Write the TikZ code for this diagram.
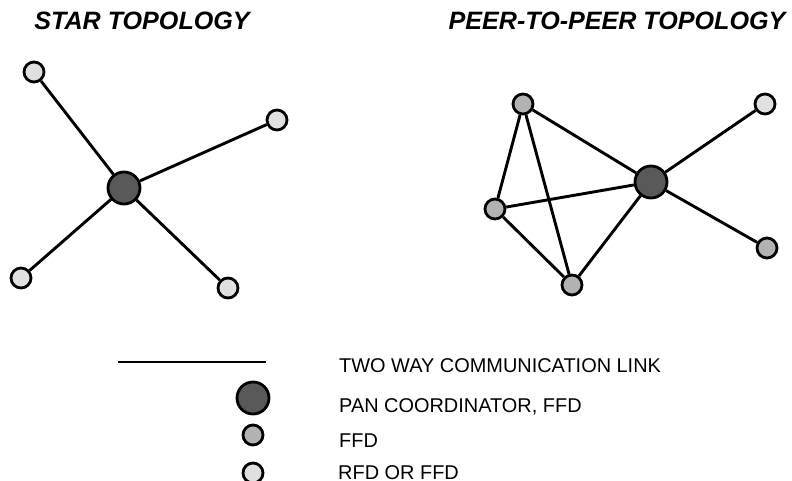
\documentclass[tikz,border=0pt]{standalone}
\usepackage{fontspec}
\setmainfont{Liberation Sans}
\usetikzlibrary{positioning}
\definecolor{coordfill}{HTML}{595959}
\definecolor{ffdfill}{HTML}{B2B2B2}
\definecolor{rfdfill}{HTML}{E0E0E0}

\begin{document}
\begin{tikzpicture}[
    x=1bp, y=-1bp,
    link/.style={line width=2.9bp, draw=black},
    dev/.style={circle, draw=black, inner sep=0pt, line width=2.8bp},
    pancoord/.style={dev, fill=coordfill, minimum size=32bp},
    ffd/.style={dev, fill=ffdfill, minimum size=20bp},
    rfd/.style={dev, fill=rfdfill, minimum size=20bp},
    ttl/.style={font=\fontsize{25.2}{29}\selectfont\bfseries\itshape, anchor=base, inner sep=0pt},
    lgtext/.style={font=\fontsize{20}{24}\selectfont, anchor=base west, inner sep=0pt, text depth=0pt},
]
\useasboundingbox (0,0) rectangle (792,481);

% --- Titles ---
\node[ttl] (startitle) at (142, 30) {STAR TOPOLOGY};
\node[ttl] (p2ptitle) at (617, 30) {PEER-TO-PEER TOPOLOGY};

% --- Star topology ---
\node[pancoord] (sc) at (124, 188) {};
\node[rfd] (s1) at (34, 72) {};
\node[rfd] (s2) at (277, 120) {};
\node[rfd] (s3) at (21, 278) {};
\node[rfd] (s4) at (228, 288) {};
\foreach \n in {s1,s2,s3,s4} {
    \draw[link] (sc) -- (\n);
}

% --- Peer-to-peer topology ---
\node[pancoord] (pc) at (651, 182) {};
\node[ffd] (pa) at (523, 104) {};
\node[ffd] (pb) at (495, 209) {};
\node[ffd] (pd) at (572, 285) {};
\node[rfd] (pr) at (765, 104) {};
\node[ffd] (pe) at (767, 248) {};
\foreach \a/\b in {pa/pc, pa/pb, pa/pd, pb/pc, pb/pd, pd/pc, pc/pr, pc/pe} {
    \draw[link] (\a) -- (\b);
}

% --- Legend ---
\coordinate (lgA) at (118, 362);
\coordinate (lgB) at (266, 362);
\draw[link] (lgA) -- (lgB);
\node[pancoord] (lgc) at (253, 398) {};
\node[ffd] (lgf) at (253, 435) {};
\node[rfd] (lgr) at (253, 473) {};
\node[lgtext] (lglink) at (339, 372) {TWO WAY COMMUNICATION LINK};
\node[lgtext] (lgpan) at (339, 412) {PAN COORDINATOR, FFD};
\node[lgtext] (lgffd) at (339, 447) {FFD};
\node[lgtext] (lgrfd) at (338, 479) {RFD OR FFD};

\end{tikzpicture}
\end{document}
